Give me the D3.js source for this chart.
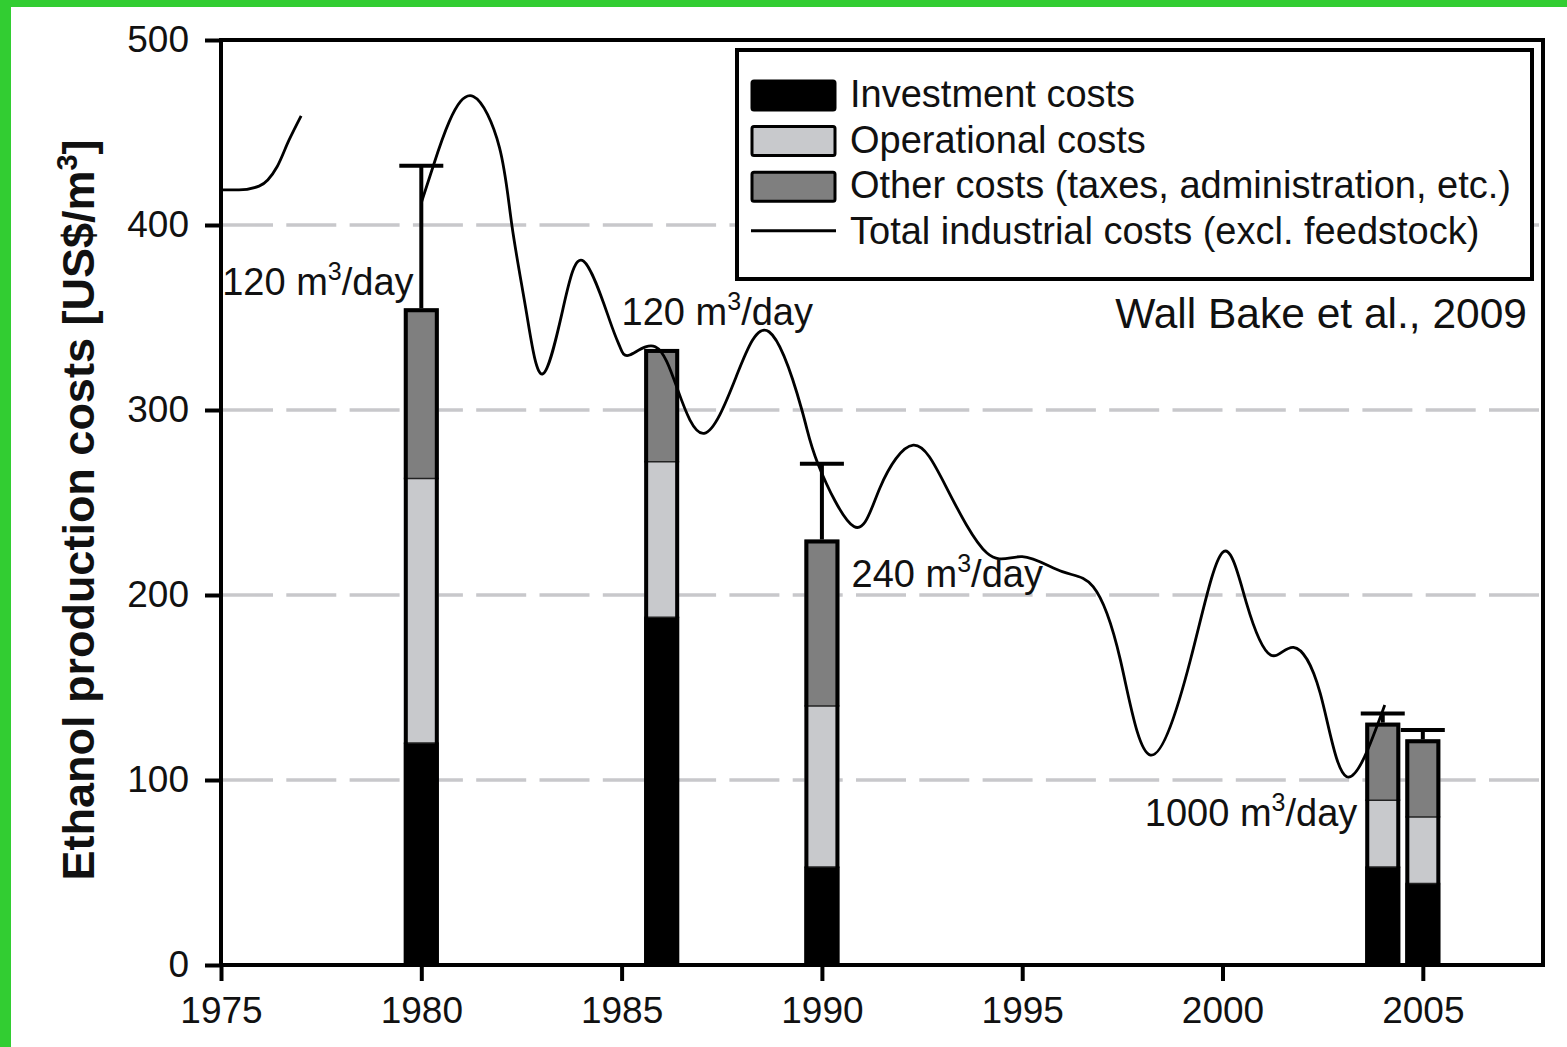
<!DOCTYPE html>
<html>
<head>
<meta charset="utf-8">
<script src="https://cdn.jsdelivr.net/npm/d3@7"></script>
<style>
  body { margin: 0; background: #fff; }
  svg text { font-family: "Liberation Sans", Arial, sans-serif; fill: #111; }
</style>
</head>
<body>
<div id="chart"></div>
<script>
// bar stacks (US$/m3)
let barYears = [1980, 1986, 1990, 2004, 2005];
let investment = [120, 188, 53, 53, 44];
let operational = [143, 84, 87, 36, 36];
let otherCosts = [92, 61, 90, 42, 42];
let errorTop = [432, null, 271, 136, 127];

// total industrial costs line, two pieces
let totalA = [[1975, 419], [1975.45, 419], [1975.95, 421], [1976.4, 431.5], [1976.7, 446], [1977, 459]];
let totalB = [[1980, 412], [1980.3, 432], [1980.7, 456], [1981.3, 469.5], [1981.95, 442], [1982.26, 400],
    [1982.63, 352], [1983.03, 319.5], [1983.55, 356], [1984.05, 380.5], [1984.7, 348.6], [1984.96, 334],
    [1985.2, 329.7], [1985.84, 334.2], [1986.4, 311], [1987.06, 287.4], [1987.86, 318], [1988.68, 342.3],
    [1989.5, 300], [1989.9, 271], [1990.8, 237], [1991.45, 258], [1992.28, 281],
    [1993.1, 258.5], [1994.12, 222.7], [1995, 220.7], [1996, 212.6], [1996.77, 204.5],
    [1997.45, 164.9], [1998.2, 113.5], [1999.2, 165], [2000, 223], [2000.6, 195.5], [2001.2, 167.6],
    [2001.77, 171.7], [2002.44, 146.8], [2003.1, 101.8], [2004.05, 140.5]];

let capacityLabels = [
    {year: 1975.03, value: 362, size: "120"},
    {year: 1985.0, value: 346, size: "120"},
    {year: 1990.74, value: 204.5, size: "240"},
    {year: 1998.06, value: 75.3, size: "1000"}
];

let xTicks = [1975, 1980, 1985, 1990, 1995, 2000, 2005];
let yTicks = [0, 100, 200, 300, 400, 500];
let gridValues = [100, 200, 300, 400];

let legendItems = [
    {label: "Investment costs", type: "box", fill: "#000"},
    {label: "Operational costs", type: "box", fill: "#c8c9cc"},
    {label: "Other costs (taxes, administration, etc.)", type: "box", fill: "#7f7f7f"},
    {label: "Total industrial costs (excl. feedstock)", type: "line"}
];

let colors = {investment: "#000", operational: "#c8c9cc", other: "#7f7f7f", grid: "#c8c8cb", green: "#32cd32"};

let width = 1567, height = 1047;
let plot = {left: 221, right: 1543, top: 40, bottom: 965};
let barWidth = 35;

let svg = d3.select("#chart").append("svg").attr("width", width).attr("height", height);

// green frame of the screenshot
svg.append("rect").attr("x", 0).attr("y", 0).attr("width", 11).attr("height", height).attr("fill", colors.green);
svg.append("rect").attr("x", 0).attr("y", 0).attr("width", width).attr("height", 7).attr("fill", colors.green);

let x = d3.scaleLinear().domain([1975, 2008]).range([plot.left, plot.right]);
let y = d3.scaleLinear().domain([0, 500]).range([plot.bottom, plot.top]);

// grid
svg.append("g").selectAll("line").data(gridValues).join("line")
    .attr("x1", plot.left + 2).attr("x2", plot.right - 2)
    .attr("y1", d => y(d)).attr("y2", d => y(d))
    .attr("stroke", colors.grid).attr("stroke-width", 3.5).attr("stroke-dasharray", "50,13.3");

// bars
let stacks = barYears.map((yr, i) => {
    let a = investment[i], b = a + operational[i], c = b + otherCosts[i];
    return {year: yr, parts: [[0, a, colors.investment], [a, b, colors.operational], [b, c, colors.other]], top: c, err: errorTop[i]};
});

let bars = svg.append("g");
stacks.forEach(s => {
    let x0 = x(s.year) - barWidth / 2;
    s.parts.forEach(p => {
        bars.append("rect").attr("x", x0).attr("width", barWidth)
            .attr("y", y(p[1])).attr("height", y(p[0]) - y(p[1])).attr("fill", p[2]);
    });
    [s.parts[0][1], s.parts[1][1]].forEach(v => {
        bars.append("line").attr("x1", x0).attr("x2", x0 + barWidth).attr("y1", y(v)).attr("y2", y(v))
            .attr("stroke", "#222").attr("stroke-width", 1.5);
    });
    bars.append("rect").attr("x", x0 + 2).attr("width", barWidth - 4)
        .attr("y", y(s.top) + 2).attr("height", y(0) - y(s.top) - 2)
        .attr("fill", "none").attr("stroke", "#000").attr("stroke-width", 4);
    if (s.err !== null) {
        bars.append("line").attr("x1", x(s.year)).attr("x2", x(s.year)).attr("y1", y(s.top)).attr("y2", y(s.err))
            .attr("stroke", "#000").attr("stroke-width", 4);
        bars.append("line").attr("x1", x(s.year) - 22).attr("x2", x(s.year) + 22).attr("y1", y(s.err)).attr("y2", y(s.err))
            .attr("stroke", "#000").attr("stroke-width", 4);
    }
});

// total costs line
let lineA = d3.line().x(d => x(d[0])).y(d => y(d[1])).curve(d3.curveMonotoneX);
let lineB = d3.line().x(d => x(d[0])).y(d => y(d[1])).curve(d3.curveNatural);
svg.append("path").attr("d", lineA(totalA)).attr("fill", "none").attr("stroke", "#000").attr("stroke-width", 2.8);
svg.append("path").attr("d", lineB(totalB)).attr("fill", "none").attr("stroke", "#000").attr("stroke-width", 2.8);

// frame
svg.append("rect").attr("x", plot.left).attr("y", plot.top)
    .attr("width", plot.right - plot.left).attr("height", plot.bottom - plot.top)
    .attr("fill", "none").attr("stroke", "#000").attr("stroke-width", 4);

// axes
let yAxis = svg.append("g").attr("transform", "translate(" + plot.left + ",0)")
    .call(d3.axisLeft(y).tickValues(yTicks).tickSize(16).tickPadding(16));
let xAxis = svg.append("g").attr("transform", "translate(0," + plot.bottom + ")")
    .call(d3.axisBottom(x).tickValues(xTicks).tickFormat(d3.format("d")).tickSize(16).tickPadding(16));
[xAxis, yAxis].forEach(ax => {
    ax.select(".domain").remove();
    ax.selectAll(".tick line").attr("stroke", "#000").attr("stroke-width", 4);
    ax.selectAll(".tick text").attr("font-size", 37).attr("fill", "#111").attr("font-family", "Liberation Sans, Arial, sans-serif");
});

// y title
let yTitle = svg.append("text").attr("transform", "translate(94,510) rotate(-90)")
    .attr("text-anchor", "middle").attr("font-size", 45).attr("font-weight", "bold");
yTitle.append("tspan").text("Ethanol production costs [US$/m");
yTitle.append("tspan").text("3").attr("font-size", 29).attr("dy", -17);
yTitle.append("tspan").text("]").attr("dy", 17);

// capacity labels
capacityLabels.forEach(c => {
    let t = svg.append("text").attr("x", x(c.year)).attr("y", y(c.value)).attr("font-size", 38);
    t.append("tspan").text(c.size + " m");
    t.append("tspan").text("3").attr("font-size", 25).attr("dy", -15);
    t.append("tspan").text("/day").attr("font-size", 38).attr("dy", 15);
});

// credit
svg.append("text").attr("x", plot.right - 16).attr("y", 328).attr("text-anchor", "end")
    .attr("font-size", 42.5).text("Wall Bake et al., 2009");

// legend
let legend = svg.append("g");
legend.append("rect").attr("x", 737).attr("y", 50).attr("width", 795).attr("height", 229)
    .attr("fill", "#fff").attr("stroke", "#000").attr("stroke-width", 4);
legendItems.forEach((item, i) => {
    let cy = 95 + i * 45.6;
    if (item.type === "box") {
        legend.append("rect").attr("x", 752).attr("y", cy - 14).attr("width", 83).attr("height", 29).attr("rx", 2)
            .attr("fill", item.fill).attr("stroke", "#000").attr("stroke-width", 3);
    } else {
        legend.append("line").attr("x1", 751).attr("x2", 836).attr("y1", cy - 1).attr("y2", cy - 1)
            .attr("stroke", "#000").attr("stroke-width", 3);
    }
    legend.append("text").attr("x", 850).attr("y", cy + 12).attr("font-size", 38).text(item.label);
});
</script>
</body>
</html>
